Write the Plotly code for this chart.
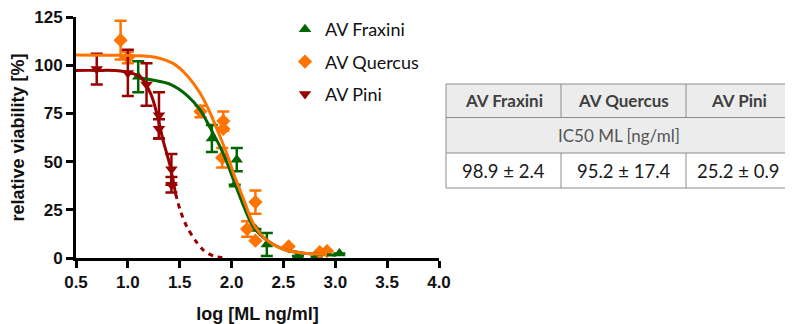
import plotly.graph_objects as go

# ---------------- data ----------------
series_names = ["AV Fraxini", "AV Quercus", "AV Pini"]

fraxini_x = [1.10, 1.81, 2.05, 2.03, 2.23, 2.34, 2.64, 2.82, 3.04]
fraxini_y = [94, 62, 51, 38, 15, 7, 1, 0.5, 2.3]
fraxini_err = [8, 7, 6, 0, 0, 6, 0, 0, 0]

quercus_x = [0.93, 1.00, 1.70, 1.92, 1.92, 1.91, 2.23, 2.15, 2.23, 2.55, 2.85, 2.92]
quercus_y = [113, 104, 76, 71, 67, 52, 29, 15, 9, 6, 3, 3.6]
quercus_err = [10, 3, 3, 5, 0, 5, 6, 4, 0, 0, 0, 0]

pini_x = [0.70, 1.00, 1.18, 1.30, 1.30, 1.42, 1.42]
pini_y = [98, 96, 90, 74, 67, 46, 38]
pini_err = [8, 12, 11, 12, 5, 8, 4]

# fitted curves
fraxini_fit_x = [1.10, 1.25, 1.41, 1.57, 1.70, 1.79, 1.89, 1.96, 2.02, 2.12, 2.21, 2.34, 2.53, 2.73, 3.01]
fraxini_fit_y = [93.5, 92.2, 90.1, 84.4, 76.6, 67.9, 57.6, 48.9, 40.3, 26.5, 16.1, 9.2, 4.0, 2.3, 1.4]

quercus_fit_x = [0.50, 0.93, 1.25, 1.44, 1.57, 1.70, 1.79, 1.89, 1.96, 2.02, 2.12, 2.21, 2.34, 2.53, 2.73, 2.92]
quercus_fit_y = [105.3, 105.1, 104.3, 100.8, 94.7, 85.2, 75.7, 62.8, 53.3, 43.7, 29.9, 17.8, 9.2, 4.0, 2.3, 1.8]

pini_fit_x = [0.50, 0.70, 0.93, 1.12, 1.22, 1.28, 1.34, 1.41, 1.46]
pini_fit_y = [97.3, 97.3, 97.0, 93.9, 85.2, 74.9, 61.0, 47.2, 33.4]
pini_extrap_x = [1.46, 1.505, 1.57, 1.65, 1.73, 1.83, 1.95]
pini_extrap_y = [33.4, 24.7, 16.1, 9.2, 4.0, 0.9, 0.0]

x_ticks = [0.5, 1.0, 1.5, 2.0, 2.5, 3.0, 3.5, 4.0]
y_ticks = [0, 25, 50, 75, 100, 125]

table_header = ["AV Fraxini", "AV Quercus", "AV Pini"]
table_subtitle = "IC50 ML [ng/ml]"
table_values = ["98.9 ± 2.4", "95.2 ± 17.4", "25.2 ± 0.9"]

# ---------------- styles ----------------
GREEN = "#006400"
ORANGE = "#ff7300"
RED = "#990000"

OFF = 8  # page body margin of the browser
W, H = 793 - OFF, 324 - OFF
PLOT_X0, PLOT_X1, PLOT_Y0, PLOT_Y1 = 76, 439, 17, 258  # in window pixels
L = PLOT_X0 - OFF
T = PLOT_Y0 - OFF
R = W - (PLOT_X1 - OFF)
B = H - (PLOT_Y1 - OFF)
PW, PH = W - L - R, H - T - B


def px_x(p):
    return (p - OFF - L) / PW


def px_y(p):
    return (H - B - (p - OFF)) / PH


fig = go.Figure()


def add_points(x, y, err, name, color, symbol, size):
    fig.add_trace(go.Scatter(
        x=x, y=y, mode="markers", name=name, legendgroup=name,
        marker=dict(color=color, symbol=symbol, size=size, line=dict(width=0)),
        error_y=dict(type="data", array=err, color=color, thickness=2.5, width=6),
        cliponaxis=False,
    ))


add_points(fraxini_x, fraxini_y, fraxini_err, series_names[0], GREEN, "triangle-up", 11)
add_points(quercus_x, quercus_y, quercus_err, series_names[1], ORANGE, "diamond", 11)
add_points(pini_x, pini_y, pini_err, series_names[2], RED, "triangle-down", 11)


def add_line(x, y, color, dash="solid"):
    fig.add_trace(go.Scatter(
        x=x, y=y, mode="lines", showlegend=False, hoverinfo="skip",
        line=dict(color=color, width=3, shape="spline", smoothing=0.8, dash=dash),
        cliponaxis=False,
    ))


add_line(fraxini_fit_x, fraxini_fit_y, GREEN)
add_line(quercus_fit_x, quercus_fit_y, ORANGE)
add_line(pini_fit_x, pini_fit_y, RED)
add_line(pini_extrap_x, pini_extrap_y, RED, dash="5px,5px")

tick_font = dict(family="Liberation Sans, Arial", size=17, color="#111111", weight="bold")
title_font = dict(family="Liberation Sans, Arial", size=18, color="#111111", weight="bold")

fig.update_xaxes(
    range=[0.5, 4.0], tickvals=x_ticks, ticktext=[f"{v:.1f}" for v in x_ticks],
    showline=True, linecolor="black", linewidth=3, ticks="outside", ticklen=7,
    tickwidth=3, tickcolor="black", showgrid=False, zeroline=False,
    tickfont=tick_font, automargin=False, ticklabeloverflow="allow",
    title=dict(text="log [ML ng/ml]", font=title_font, standoff=21),
)
fig.update_yaxes(
    range=[0, 125], tickvals=y_ticks,
    showline=True, linecolor="black", linewidth=3, ticks="outside", ticklen=7,
    tickwidth=3, tickcolor="black", showgrid=False, zeroline=False,
    tickfont=tick_font, automargin=False, ticklabeloverflow="allow",
    title=dict(text="relative viability [%]", font=title_font, standoff=6),
)

# ---------------- table ----------------
col_edges = [446, 561, 686, 791]
row_edges = [84, 117.5, 153, 188]
BORDER = "#8c8c8c"
FILL = "#ececec"

shapes = []
shapes.append(dict(type="rect", xref="paper", yref="paper",
                   x0=px_x(col_edges[0]), x1=px_x(col_edges[-1]),
                   y0=px_y(row_edges[2]), y1=px_y(row_edges[0]),
                   fillcolor=FILL, line=dict(width=0), layer="below"))
for r in row_edges:
    shapes.append(dict(type="line", xref="paper", yref="paper",
                       x0=px_x(col_edges[0]), x1=px_x(col_edges[-1]),
                       y0=px_y(r), y1=px_y(r), line=dict(color=BORDER, width=1)))
for c in (col_edges[0], col_edges[-1]):
    shapes.append(dict(type="line", xref="paper", yref="paper",
                       x0=px_x(c), x1=px_x(c), y0=px_y(row_edges[-1]), y1=px_y(row_edges[0]),
                       line=dict(color=BORDER, width=1)))
for c in col_edges[1:-1]:
    for (r0, r1) in ((row_edges[0], row_edges[1]), (row_edges[2], row_edges[3])):
        shapes.append(dict(type="line", xref="paper", yref="paper",
                           x0=px_x(c), x1=px_x(c), y0=px_y(r1), y1=px_y(r0),
                           line=dict(color=BORDER, width=1)))

annotations = []
for i in range(3):
    cx = (col_edges[i] + col_edges[i + 1]) / 2
    annotations.append(dict(xref="paper", yref="paper", x=px_x(cx),
                            y=px_y((row_edges[0] + row_edges[1]) / 2),
                            xanchor="center", yanchor="middle",
                            text=table_header[i], showarrow=False,
                            font=dict(family="Lato", size=17, color="#404040", weight="bold")))
    annotations.append(dict(xref="paper", yref="paper", x=px_x(cx),
                            y=px_y((row_edges[2] + row_edges[3]) / 2),
                            xanchor="center", yanchor="middle",
                            text=table_values[i], showarrow=False,
                            font=dict(family="Lato", size=18.5, color="#1a1a1a")))
annotations.append(dict(xref="paper", yref="paper",
                        x=px_x((col_edges[0] + col_edges[-1]) / 2),
                        y=px_y((row_edges[1] + row_edges[2]) / 2),
                        xanchor="center", yanchor="middle",
                        text=table_subtitle, showarrow=False,
                        font=dict(family="Lato", size=17, color="#555555")))

fig.update_layout(
    width=W, height=H,
    margin=dict(l=L, r=R, t=T, b=B, pad=0, autoexpand=False),
    paper_bgcolor="white", plot_bgcolor="white",
    shapes=shapes, annotations=annotations,
    showlegend=True,
    legend=dict(x=px_x(285), y=px_y(11), xanchor="left", yanchor="top",
                font=dict(family="Lato", size=18, color="#111111"),
                tracegroupgap=6, bgcolor="rgba(0,0,0,0)", borderwidth=0),
)

fig.write_html("out.html")
